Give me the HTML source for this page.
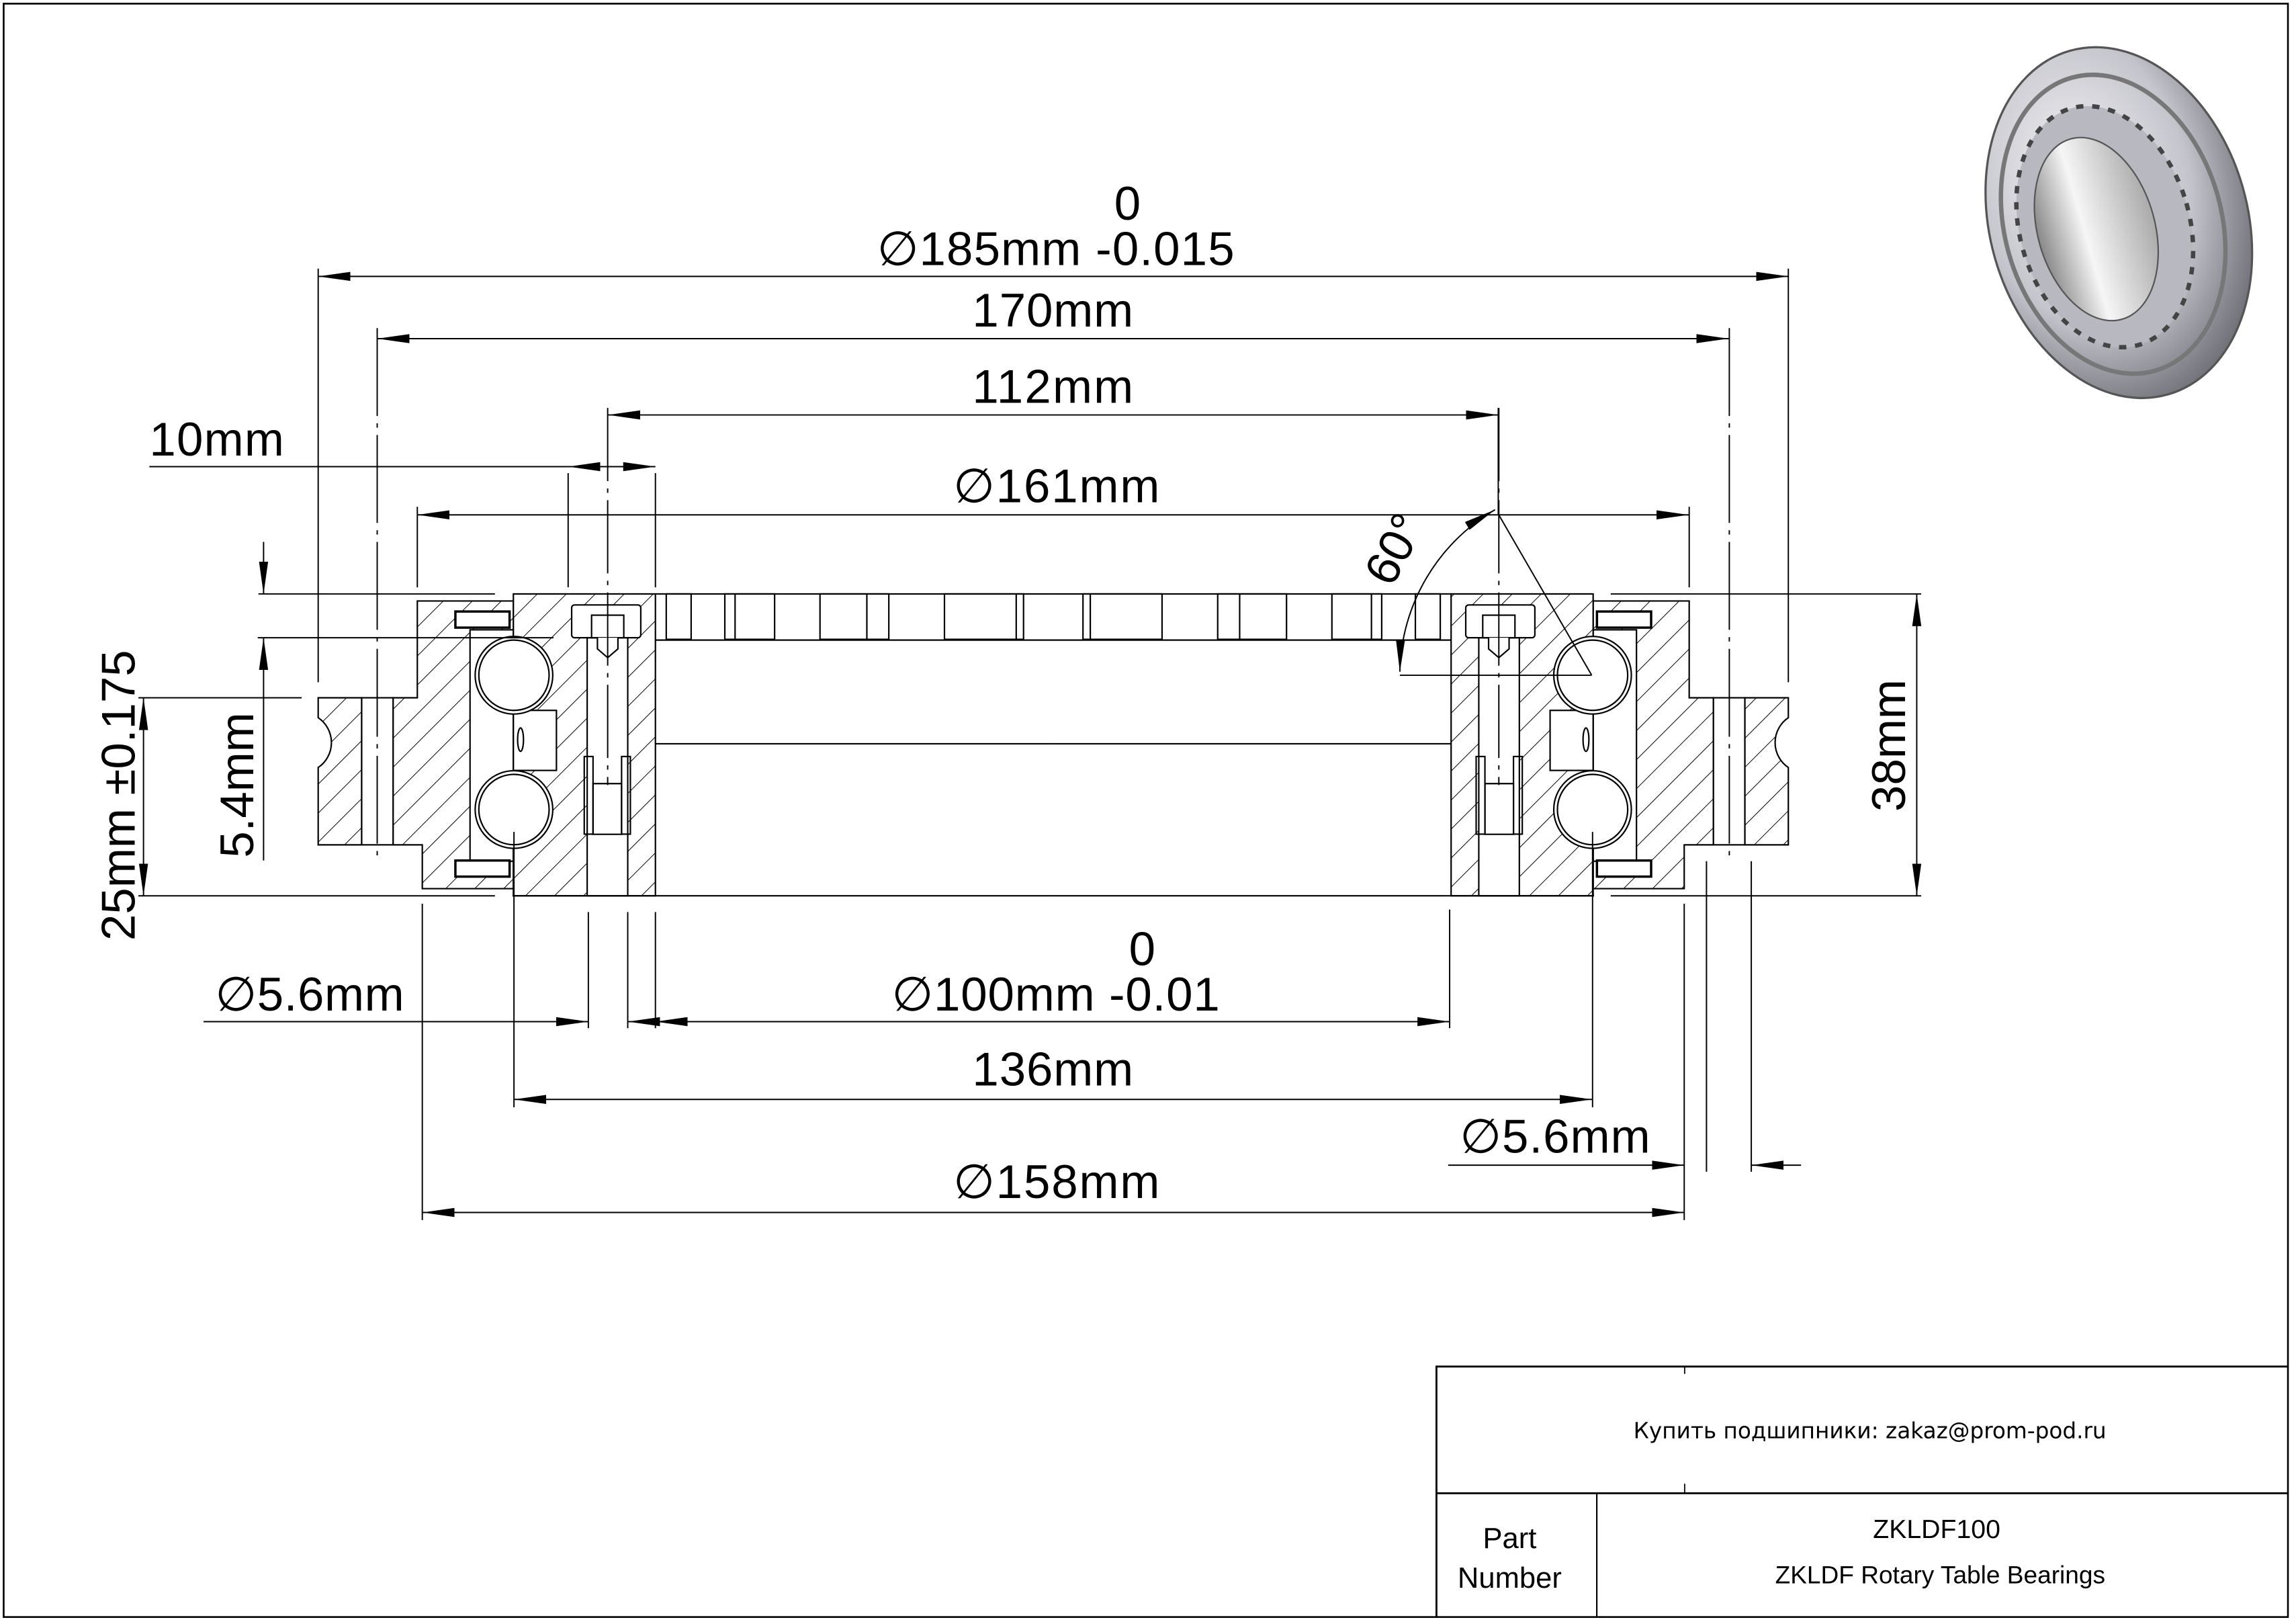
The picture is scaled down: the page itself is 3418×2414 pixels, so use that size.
<!DOCTYPE html>
<html><head><meta charset="utf-8"><style>
html,body{margin:0;padding:0;background:#fff;}
svg{display:block;}
text{font-family:"Liberation Sans",sans-serif;fill:#000;}
</style></head><body>
<svg width="3418" height="2414" viewBox="0 0 1568 1107.4" preserveAspectRatio="none" xmlns="http://www.w3.org/2000/svg">
<defs>
<pattern id="h1" patternUnits="userSpaceOnUse" width="14" height="14" patternTransform="rotate(45)">
<rect width="14" height="14" fill="#fff"/><line x1="0" y1="0" x2="0" y2="14" stroke="#000" stroke-width="0.9"/></pattern>
<pattern id="h2" patternUnits="userSpaceOnUse" width="14" height="14" patternTransform="rotate(-45)">
<rect width="14" height="14" fill="#fff"/><line x1="0" y1="0" x2="0" y2="14" stroke="#000" stroke-width="0.9"/></pattern>
<marker id="a" viewBox="0 0 22 7" refX="22" refY="3.5" markerWidth="22" markerHeight="7" markerUnits="userSpaceOnUse" orient="auto-start-reverse"><path d="M0,0.4 L22,3.5 L0,6.6z" fill="#000"/></marker>
<radialGradient id="g1" cx="0.4" cy="0.35" r="0.7"><stop offset="0" stop-color="#f4f4f6"/><stop offset="0.6" stop-color="#c4c4cc"/><stop offset="1" stop-color="#6a6a72"/></radialGradient>
<linearGradient id="g2" x1="0" y1="0" x2="1" y2="0"><stop offset="0" stop-color="#888"/><stop offset="0.4" stop-color="#f6f6f6"/><stop offset="1" stop-color="#aaa"/></linearGradient>
<g id="half" stroke="#000" stroke-width="1">
  <path d="M217.3,476.4 H247 V576.8 H217.3 V524 A20.5 20.5 0 0 0 217.3,490 Z" style="fill:var(--h)"/>
  <rect x="247" y="476.4" width="21.5" height="100.4" fill="#fff"/>
  <line x1="257.6" y1="224" x2="257.6" y2="587.5" stroke-width="0.9" stroke-dasharray="60,5,3,5"/>
  <path d="M285,410.3 H350.6 V606.7 H288.4 V576.8 H268.5 V476.4 H285 Z" style="fill:var(--h)"/>
  <rect x="321" y="430" width="29.6" height="158" fill="#fff"/>
  <rect x="311" y="417.5" width="37" height="11" fill="#fff" stroke-width="1.6"/>
  <rect x="311" y="587.5" width="37" height="11" fill="#fff" stroke-width="1.6"/>
  <rect x="350.6" y="405.5" width="97" height="206.1" style="fill:var(--h)"/>
  <rect x="350.6" y="485" width="29.4" height="41" fill="#fff"/>
  <ellipse cx="355.5" cy="505" rx="2" ry="8" fill="none"/>
  <circle cx="351" cy="461" r="26.5" fill="#fff"/>
  <circle cx="351" cy="461" r="24" fill="#fff"/>
  <circle cx="351" cy="552.7" r="26.5" fill="#fff"/>
  <circle cx="351" cy="552.7" r="24" fill="#fff"/>
  <rect x="401" y="435.4" width="27.7" height="176.2" fill="#fff"/>
  <rect x="390.4" y="413" width="47.2" height="22.4" rx="2" fill="#fff"/>
  <rect x="404" y="420" width="22" height="15.4" fill="#fff"/>
  <path d="M408,435.4 V443 L415,449 L422,443 V435.4" fill="#fff"/>
  <rect x="399" y="516.5" width="6" height="53" fill="none"/>
  <rect x="424.5" y="516.5" width="6" height="53" fill="none"/>
  <path d="M405,535 H424.5 V569.6 H405 Z" fill="none"/>
  <line x1="415" y1="278.5" x2="415" y2="536" stroke-width="0.9" stroke-dasharray="50,5,3,5"/>
  <g fill="#fff">
  <rect x="455" y="405.5" width="17" height="31"/>
  <rect x="495" y="405.5" width="34" height="31"/><line x1="502" y1="405.5" x2="502" y2="436.5"/>
  <rect x="560" y="405.5" width="47" height="31"/><line x1="592" y1="405.5" x2="592" y2="436.5"/>
  <rect x="645" y="405.5" width="54" height="31"/><line x1="694" y1="405.5" x2="694" y2="436.5"/>
  </g>
  <line x1="447.6" y1="405.5" x2="719.3" y2="405.5"/>
  <line x1="447.6" y1="437" x2="719.3" y2="437"/>
  <line x1="447.6" y1="507.8" x2="719.3" y2="507.8"/>
  <line x1="350" y1="611.6" x2="719.3" y2="611.6"/>
  <line x1="217.3" y1="183.4" x2="217.3" y2="465.8" stroke-width="0.9"/>
  <line x1="285" y1="346" x2="285" y2="401" stroke-width="0.9"/>
  <line x1="288.4" y1="617" x2="288.4" y2="833" stroke-width="0.9"/>
  <line x1="351" y1="568" x2="351" y2="756" stroke-width="0.9"/>
</g>
</defs>
<rect x="0" y="0" width="1568" height="1107.4" fill="#fff"/>
<rect x="2.5" y="2.5" width="1560" height="1101.5" fill="none" stroke="#000" stroke-width="1.2"/>

<use href="#half" style="--h:url(#h1)"/>
<use href="#half" transform="translate(1438.6,0) scale(-1,1)" style="--h:url(#h2)"/>

<g stroke="#000" stroke-width="0.9" fill="none">
  <line x1="388" y1="323" x2="388" y2="401"/>
  <line x1="447.6" y1="323" x2="447.6" y2="401"/>
  <line x1="176.5" y1="405.5" x2="338" y2="405.5"/>
  <line x1="176" y1="435.4" x2="378" y2="435.4"/>
  <line x1="94.5" y1="476.4" x2="206" y2="476.4"/>
  <line x1="94.5" y1="611.6" x2="338" y2="611.6"/>
  <line x1="401.8" y1="622.7" x2="401.8" y2="702"/>
  <line x1="428.7" y1="622.7" x2="428.7" y2="702"/>
  <line x1="447.6" y1="622.7" x2="447.6" y2="702"/>
  <line x1="1100" y1="405.5" x2="1312" y2="405.5"/>
  <line x1="1100" y1="611.6" x2="1312" y2="611.6"/>
  <line x1="1165.4" y1="588" x2="1165.4" y2="800"/>
  <line x1="1196" y1="588" x2="1196" y2="800"/>
  <line x1="990" y1="621" x2="990" y2="702"/>
  <line x1="1023.2" y1="278.5" x2="1023.2" y2="350.9"/>
  <line x1="217.3" y1="188.7" x2="1221.3" y2="188.7" marker-start="url(#a)" marker-end="url(#a)"/>
  <line x1="257.6" y1="231.2" x2="1180.5" y2="231.2" marker-start="url(#a)" marker-end="url(#a)"/>
  <line x1="415.2" y1="283.3" x2="1023.2" y2="283.3" marker-start="url(#a)" marker-end="url(#a)"/>
  <line x1="102" y1="318.6" x2="388" y2="318.6"/>
  <line x1="388" y1="318.6" x2="447.6" y2="318.6" marker-start="url(#a)" marker-end="url(#a)"/>
  <line x1="285" y1="351.5" x2="1153.3" y2="351.5" marker-start="url(#a)" marker-end="url(#a)"/>
  <line x1="1309" y1="405.5" x2="1309" y2="611.6" marker-start="url(#a)" marker-end="url(#a)"/>
  <line x1="98" y1="476.4" x2="98" y2="611.6" marker-start="url(#a)" marker-end="url(#a)"/>
  <line x1="180" y1="370" x2="180" y2="405.5" marker-end="url(#a)"/>
  <line x1="180" y1="587.5" x2="180" y2="435.4" marker-end="url(#a)"/>
  <line x1="139" y1="697.5" x2="401.8" y2="697.5" marker-end="url(#a)"/>
  <line x1="447.6" y1="697.5" x2="428.7" y2="697.5" marker-end="url(#a)"/>
  <line x1="447.6" y1="697.5" x2="990" y2="697.5" marker-start="url(#a)" marker-end="url(#a)"/>
  <line x1="351" y1="750.6" x2="1087.2" y2="750.6" marker-start="url(#a)" marker-end="url(#a)"/>
  <line x1="989" y1="795.5" x2="1150.2" y2="795.5" marker-end="url(#a)"/>
  <line x1="1230" y1="795.5" x2="1196" y2="795.5" marker-end="url(#a)"/>
  <line x1="288.4" y1="827.8" x2="1150.2" y2="827.8" marker-start="url(#a)" marker-end="url(#a)"/>
  <line x1="1023.2" y1="350.9" x2="1087" y2="461"/>
  <line x1="956" y1="461" x2="1087" y2="461"/>
  <path d="M1021,348 A131 131 0 0 0 956,458.6" marker-start="url(#a)" marker-end="url(#a)"/>
</g>

<g font-size="32.5">
<text x="770" y="150" text-anchor="middle">0</text>
<text x="599" y="181" textLength="244">∅185mm -0.015</text>
<text x="664" y="223" textLength="110">170mm</text>
<text x="664" y="275" textLength="110">112mm</text>
<text x="102" y="311" textLength="92">10mm</text>
<text x="651" y="343" textLength="141">∅161mm</text>
<text x="147" y="690" textLength="129">∅5.6mm</text>
<text x="780" y="659" text-anchor="middle">0</text>
<text x="609" y="690" textLength="224">∅100mm -0.01</text>
<text x="664" y="741" textLength="110">136mm</text>
<text x="997" y="787" textLength="130">∅5.6mm</text>
<text x="651" y="818" textLength="141">∅158mm</text>
<text transform="translate(92,543) rotate(-90)" text-anchor="middle">25mm ±0.175</text>
<text transform="translate(173,536) rotate(-90)" text-anchor="middle">5.4mm</text>
<text transform="translate(1301,509) rotate(-90)" text-anchor="middle">38mm</text>
<text transform="translate(962,380) rotate(-62)" text-anchor="middle">60°</text>
</g>

<g transform="translate(1447,152) rotate(-16)">
<ellipse cx="0" cy="0" rx="88" ry="122" fill="url(#g1)" stroke="#555" stroke-width="1.5"/>
<ellipse cx="-4" cy="0" rx="74" ry="104" fill="none" stroke="#777" stroke-width="3"/>
<ellipse cx="-10" cy="0" rx="58" ry="84" fill="#b8b8c0" stroke="#444" stroke-width="3" stroke-dasharray="5,6"/>
<ellipse cx="-16" cy="0" rx="40" ry="64" fill="url(#g2)" stroke="#555" stroke-width="1"/>
</g>

<g stroke="#000" fill="none">
<path d="M981,1104 V933 H1563" stroke-width="1.3"/>
<line x1="981" y1="1019.5" x2="1563" y2="1019.5" stroke-width="1.3"/>
<line x1="1090.5" y1="1019.5" x2="1090.5" y2="1104" stroke-width="1"/>
<line x1="1150.5" y1="933" x2="1150.5" y2="938" stroke-width="0.8"/>
<line x1="1150.5" y1="1013" x2="1150.5" y2="1019.5" stroke-width="0.8"/>
</g>
<text x="1277" y="982" font-size="15" text-anchor="middle" style="font-family:'DejaVu Sans','Liberation Sans',sans-serif">Купить подшипники: zakaz@prom-pod.ru</text>
<text x="1322.6" y="1050" font-size="18" text-anchor="middle">ZKLDF100</text>
<text x="1325" y="1081" font-size="17" text-anchor="middle">ZKLDF Rotary Table Bearings</text>
<text x="1031" y="1057" font-size="20" text-anchor="middle">Part</text>
<text x="1031" y="1084" font-size="20" text-anchor="middle">Number</text>
</svg>
</body></html>
